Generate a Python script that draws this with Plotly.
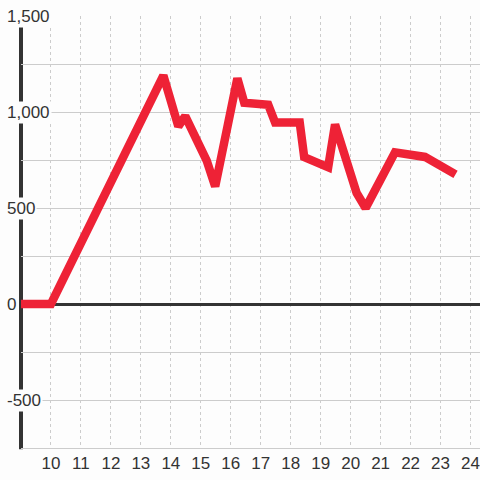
import plotly.graph_objects as go

# data
x_vals = [9, 10, 13.75, 14.25, 14.48, 15.2, 15.48, 16.22, 16.45, 17.25, 17.48, 18.3,
          18.45, 19.25, 19.48, 20.2, 20.5, 21.48, 22.48, 23.5]
y_vals = [0, 0, 1190, 925, 978, 745, 612, 1175, 1048, 1038, 945, 945,
          765, 712, 935, 578, 500, 790, 766, 675]
x_ticks = list(range(10, 25))
y_label_vals = [1500, 1000, 500, 0, -500]
y_label_text = ["1,500", "1,000", "500", "0", "-500"]

BG = "#fdfdfd"
FONT = "Arial"
FS = 17
TXT = "#333333"

fig = go.Figure()
fig.add_trace(go.Scatter(x=x_vals, y=y_vals, mode="lines",
                         line=dict(color="#ee2236", width=8.5),
                         hoverinfo="skip", cliponaxis=False))

fig.update_layout(
    width=480, height=480,
    margin=dict(l=21, r=0, t=16, b=32),
    paper_bgcolor=BG, plot_bgcolor=BG,
    showlegend=False,
    font=dict(family=FONT, size=FS, color=TXT),
    xaxis=dict(range=[9, 10 + (480 - 50.5) / 30], tickmode="array", tickvals=x_ticks,
               ticktext=[str(t) for t in x_ticks],
               showgrid=True, gridcolor="#cccccc", gridwidth=1, griddash="3px,3px",
               zeroline=False, showline=True, linecolor="#cccccc", linewidth=1,
               ticks="", tickfont=dict(family=FONT, size=FS, color=TXT),
               fixedrange=True),
    yaxis=dict(range=[-750, 1500], tick0=0, dtick=250, showticklabels=False,
               showgrid=True, gridcolor="#cccccc", gridwidth=1,
               zeroline=True, zerolinecolor="#333333", zerolinewidth=3,
               showline=False, ticks="", fixedrange=True),
)

fig.add_shape(type="line", xref="paper", yref="paper", x0=0, x1=0, y0=-0.003, y1=0.9815,
              line=dict(color="#333333", width=4), layer="below")

for v, t in zip(y_label_vals, y_label_text):
    fig.add_annotation(x=0, xref="paper", y=v, yref="y", text=t, showarrow=False,
                       xanchor="left", yanchor="middle", xshift=-16,
                       font=dict(family=FONT, size=FS, color=TXT),
                       bgcolor=BG, borderpad=1)

fig.write_html("out.html", config={"displayModeBar": False},
               post_script="document.body.style.margin='0';document.body.style.background='#fdfdfd';")
